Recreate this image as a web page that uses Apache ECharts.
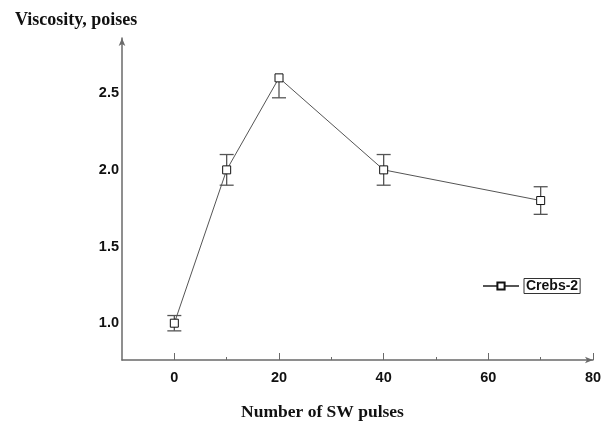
<!DOCTYPE html>
<html>
<head>
<meta charset="utf-8">
<script src="https://cdn.jsdelivr.net/npm/echarts@6/dist/echarts.min.js"></script>
<style>
html,body{margin:0;padding:0;background:#fff;}
#chart{width:616px;height:421px;}
</style>
</head>
<body>
<div id="chart"></div>
<script>
const seriesName = 'Crebs-2';
const xValues = [0, 10, 20, 40, 70];
const yValues = [1.0, 2.0, 2.6, 2.0, 1.8];
const errLow = [0.95, 1.9, 2.47, 1.9, 1.71];
const errHigh = [1.05, 2.1, 2.6, 2.1, 1.89];
const xMajorTicks = [0, 20, 40, 60, 80];
const xMinorTicks = [10, 30, 50, 70];
const yTickLabels = [1.0, 1.5, 2.0, 2.5];

const lineData = xValues.map((x, i) => [x, yValues[i]]);
const errData = xValues.map((x, i) => [x, errLow[i], errHigh[i], yValues[i]]);

const chart = echarts.init(document.getElementById('chart'), null, {renderer: 'canvas'});
const axisColor = '#6a6a6a';
const labelFont = {fontFamily: 'Liberation Sans, Arial, sans-serif', fontWeight: 'bold', fontSize: 14.5, color: '#111'};
const serifFont = 'Liberation Serif, Times New Roman, serif';

chart.setOption({
  backgroundColor: '#fff',
  animation: false,
  grid: {left: 122, right: 23, top: 38, bottom: 61, outerBoundsMode: 'none', containLabel: false},
  title: {
    text: 'Viscosity, poises',
    left: 10, top: 6,
    textStyle: {fontFamily: serifFont, fontWeight: 'bold', fontSize: 18, color: '#111'}
  },
  legend: {
    data: [seriesName],
    left: 477, top: 273,
    itemWidth: 36, itemHeight: 9,
    textStyle: Object.assign({}, labelFont, {
      fontSize: 14, borderColor: '#333', borderWidth: 1, padding: [1, 2, 0, 2]
    })
  },
  xAxis: [{
    type: 'value', min: -10, max: 80, interval: 10,
    name: 'Number of SW pulses', nameLocation: 'middle', nameGap: 43,
    nameTextStyle: {fontFamily: serifFont, fontWeight: 'bold', fontSize: 17.5, color: '#111', padding: [0, 70, 0, 0]},
    axisLine: {show: true, onZero: false, lineStyle: {color: axisColor, width: 1.5}, symbol: ['none', 'arrow'], symbolSize: [5, 8]},
    axisTick: {show: true, inside: true, length: 7, customValues: xMajorTicks, lineStyle: {color: axisColor}},
    axisLabel: Object.assign({}, labelFont, {customValues: xMajorTicks, margin: 10}),
    splitLine: {show: false}
  }, {
    type: 'value', min: -10, max: 80, position: 'bottom',
    axisLine: {show: false, onZero: false},
    axisTick: {show: true, inside: true, length: 3, customValues: xMinorTicks, lineStyle: {color: axisColor}},
    axisLabel: {show: false},
    splitLine: {show: false}
  }],
  yAxis: {
    type: 'value', min: 0.76, max: 2.86,
    axisLine: {show: true, onZero: false, lineStyle: {color: axisColor, width: 1.5}, symbol: ['none', 'arrow'], symbolSize: [5, 8]},
    axisTick: {show: false},
    axisLabel: Object.assign({}, labelFont, {customValues: yTickLabels, margin: 3, formatter: v => v.toFixed(1)}),
    splitLine: {show: false}
  },
  series: [{
    type: 'custom',
    name: 'err',
    xAxisIndex: 0,
    renderItem: function (params, api) {
      const x = api.value(0);
      const lo = api.coord([x, api.value(1)]);
      const hi = api.coord([x, api.value(2)]);
      const mid = api.coord([x, api.value(3)]);
      const w = 7;
      const style = {stroke: '#555', lineWidth: 1.3, fill: 'none'};
      const children = [
        {type: 'line', shape: {x1: lo[0], y1: lo[1], x2: hi[0], y2: hi[1]}, style: style}
      ];
      if (Math.abs(lo[1] - mid[1]) > 1) children.push({type: 'line', shape: {x1: lo[0] - w, y1: lo[1], x2: lo[0] + w, y2: lo[1]}, style: style});
      if (Math.abs(hi[1] - mid[1]) > 1) children.push({type: 'line', shape: {x1: hi[0] - w, y1: hi[1], x2: hi[0] + w, y2: hi[1]}, style: style});
      return {type: 'group', children: children};
    },
    data: errData,
    z: 1
  }, {
    type: 'line',
    name: seriesName,
    data: lineData,
    symbol: 'rect',
    symbolSize: 8,
    showAllSymbol: true,
    lineStyle: {color: '#555', width: 1},
    itemStyle: {color: '#fff', borderColor: '#111', borderWidth: 1},
    z: 3
  }]
});
</script>
</body>
</html>
